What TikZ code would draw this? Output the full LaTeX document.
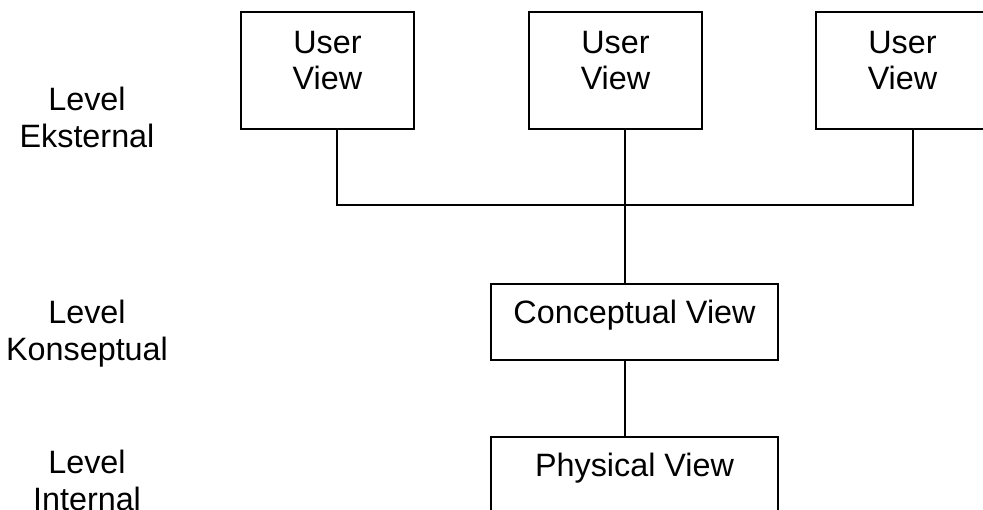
\documentclass[tikz,border=0pt]{standalone}
\usepackage{fontspec}
\setmainfont{Liberation Sans}
\tikzset{
    view/.style={draw,line width=1.5pt,align=center,inner sep=0pt,anchor=north,font=\fontsize{23}{25.6}\selectfont},
    level/.style={align=center,inner sep=0pt,anchor=north,font=\fontsize{23}{26.3}\selectfont},
    link/.style={line width=1.5pt}
}
\begin{document}
\begin{tikzpicture}[x=0.025cm,y=-0.025cm]
    \useasboundingbox (0,0) rectangle (983,510);
    \clip (0,0) rectangle (983,510);
    \path (   87,  87) node [level] (ekst) {Level\\Eksternal};
    \path (   87, 300) node [level] (konsep) {Level\\Konseptual};
    \path (   87, 450) node [level] (intern) {Level\\Internal};
    \path (327.5,  11) node [view,minimum width=4.325cm,text height=1.925cm,text depth=1.0cm] (user1) {User\\View};
    \path (615.5,  11) node [view,minimum width=4.325cm,text height=1.925cm,text depth=1.0cm] (user2) {User\\View};
    \path (902.5,  11) node [view,minimum width=4.325cm,text height=1.925cm,text depth=1.0cm] (user3) {User\\View};
    \path (634.5, 283) node [view,minimum width=7.175cm,text height=0.975cm,text depth=0.925cm] (concept) {Conceptual View};
    \path (634.5, 436) node [view,minimum width=7.175cm,text height=0.975cm,text depth=1.5cm] (phys) {Physical View};
    \coordinate (j1) at (337,205);
    \coordinate (j2) at (625,205);
    \coordinate (j3) at (913,205);
    \draw [link] (j1 |- user1.south) -- (j1) -- (j3) -- (j3 |- user3.south);
    \draw [link] (j2 |- user2.south) -- (j2 |- concept.north);
    \draw [link] (j2 |- concept.south) -- (j2 |- phys.north);
\end{tikzpicture}
\end{document}
